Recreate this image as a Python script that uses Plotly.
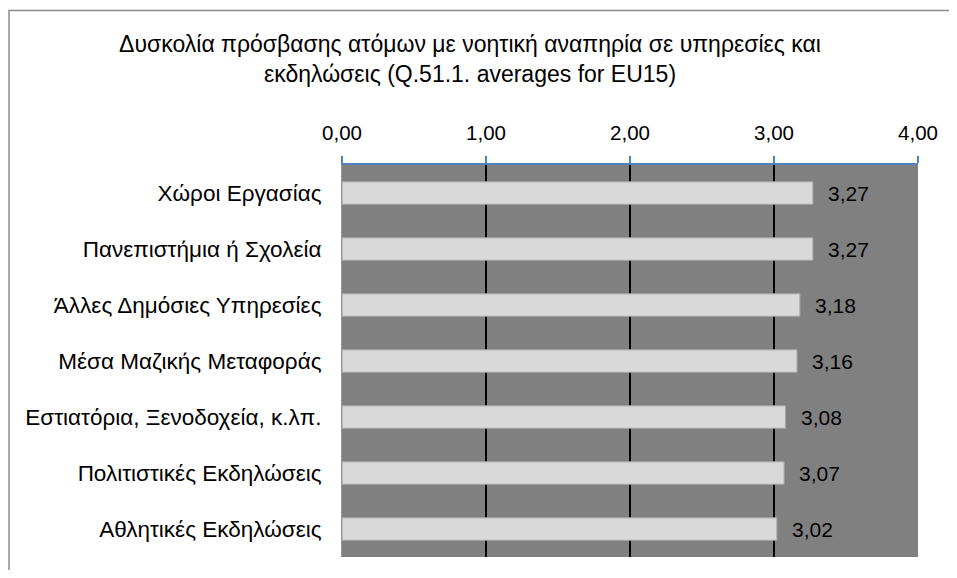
import plotly.graph_objects as go

categories = ["Χώροι Εργασίας", "Πανεπιστήμια ή Σχολεία", "Άλλες Δημόσιες Υπηρεσίες",
              "Μέσα Μαζικής Μεταφοράς", "Εστιατόρια, Ξενοδοχεία, κ.λπ.",
              "Πολιτιστικές Εκδηλώσεις", "Αθλητικές Εκδηλώσεις"]
values = [3.27, 3.27, 3.18, 3.16, 3.08, 3.07, 3.02]
tick_vals = [0, 1, 2, 3, 4]
tick_text = ["0,00", "1,00", "2,00", "3,00", "4,00"]
labels = [f"{v:.2f}".replace(".", ",") for v in values]

FONT = "Liberation Sans, Arial, sans-serif"

# page has an 8px body margin; figure local coords = page coords - 8
W, H = 941, 562
L, T = 334, 157
pw, ph = 576, 392
R, B = W - L - pw, H - T - ph

fig = go.Figure()
fig.add_trace(go.Bar(
    x=values, y=categories, orientation="h",
    marker=dict(color="#d9d9d9", line=dict(color="#a6a6a6", width=1)),
    width=0.4, hoverinfo="skip",
))

for c, v, t in zip(categories, values, labels):
    fig.add_annotation(x=v, y=c, text=t, showarrow=False, xanchor="left",
                       xshift=13, font=dict(family=FONT, size=21, color="#000"))

# chart frame (partially visible)
fig.add_shape(type="rect", xref="paper", yref="paper",
              x0=(1 - L) / pw, x1=(W + 40 - L) / pw,
              y0=(T + ph - (H + 40)) / ph, y1=(T + ph - 2.5) / ph,
              line=dict(color="#8c8c8c", width=1.5), fillcolor="rgba(0,0,0,0)", layer="below")

fig.update_layout(
    width=W, height=H,
    margin=dict(l=L, r=R, t=T, b=B),
    paper_bgcolor="white", plot_bgcolor="#808080",
    showlegend=False,
    title=dict(text="Δυσκολία πρόσβασης ατόμων με νοητική αναπηρία σε υπηρεσίες και<br>εκδηλώσεις (Q.51.1. averages for EU15)",
               x=462 / W, xanchor="center", y=1 - 44 / H, yanchor="top",
               font=dict(family=FONT, size=23, color="#000")),
    font=dict(family=FONT, size=21, color="#000"),
    xaxis=dict(side="top", range=[0, 4], tickvals=tick_vals, ticktext=tick_text,
               showgrid=True, gridcolor="#000", gridwidth=1.5,
               showline=True, linecolor="#4f81bd", linewidth=1.5,
               ticks="outside", tickcolor="#4f81bd", ticklen=7, tickwidth=1.5,
               ticklabelstandoff=8,
               zeroline=False, tickfont=dict(family=FONT, size=20.5), fixedrange=True),
    yaxis=dict(categoryorder="array", categoryarray=categories, autorange="reversed",
               showgrid=False, showline=True, linecolor="#969696", linewidth=1,
               ticks="", ticklabelstandoff=15, tickfont=dict(family=FONT, size=22.5),
               fixedrange=True),
)

fig.write_html("out.html")
